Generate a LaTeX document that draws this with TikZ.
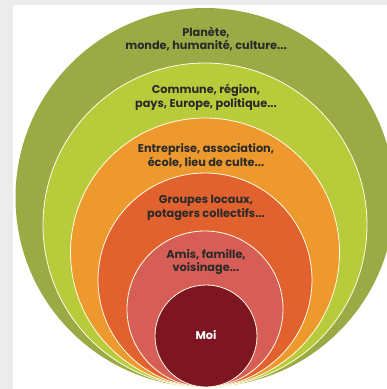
\documentclass[tikz,border=0pt]{standalone}
\usepackage{fontspec}
\setmainfont{Poppins}
\definecolor{bggray}{HTML}{ECECEC}
\definecolor{colA}{HTML}{9AAA44}
\definecolor{colB}{HTML}{B8CB3A}
\definecolor{colC}{HTML}{EE992D}
\definecolor{colD}{HTML}{E2622F}
\definecolor{colE}{HTML}{D75E57}
\definecolor{colF}{HTML}{7D1522}
\definecolor{txt}{HTML}{2A2A2A}
\begin{document}
\begin{tikzpicture}[x=1pt,y=-1pt,
  ring/.style={draw=white!90!yellow, line width=0.8pt},
  lbl/.style={text=txt, align=center, font=\fontsize{11.3}{13.8}\selectfont\bfseries, inner sep=0pt}]
\useasboundingbox (0,0) rectangle (387,389);
\fill[bggray] (0,0) rectangle (387,389);
\fill[white] (13,5) rectangle (387,389);
\begin{scope}
\clip (13,5) rectangle (387,389);
\fill[colA] (205,197.5) circle (189.5);
\end{scope}
\draw[ring, fill=colB] (205,225) circle (162);
\draw[ring, fill=colC] (205,252.5) circle (134.5);
\draw[ring, fill=colD] (205,280) circle (107);
\draw[ring, fill=colE] (205,309) circle (78);
\draw[ring, fill=colF] (206,336) circle (51);
\node[lbl] (t1) at (206,39) {Planète,\\monde, humanité, culture...};
\node[lbl] (t2) at (206,97.5) {Commune, région,\\pays, Europe, politique...};
\node[lbl] (t3) at (206,155.5) {Entreprise, association,\\école, lieu de culte...};
\node[lbl] (t4) at (206,207.5) {Groupes locaux,\\potagers collectifs...};
\node[lbl] (t5) at (206,262) {Amis, famille,\\voisinage...};
\node[lbl, text=white] (t6) at (206,335) {Moi};
\end{tikzpicture}
\end{document}
